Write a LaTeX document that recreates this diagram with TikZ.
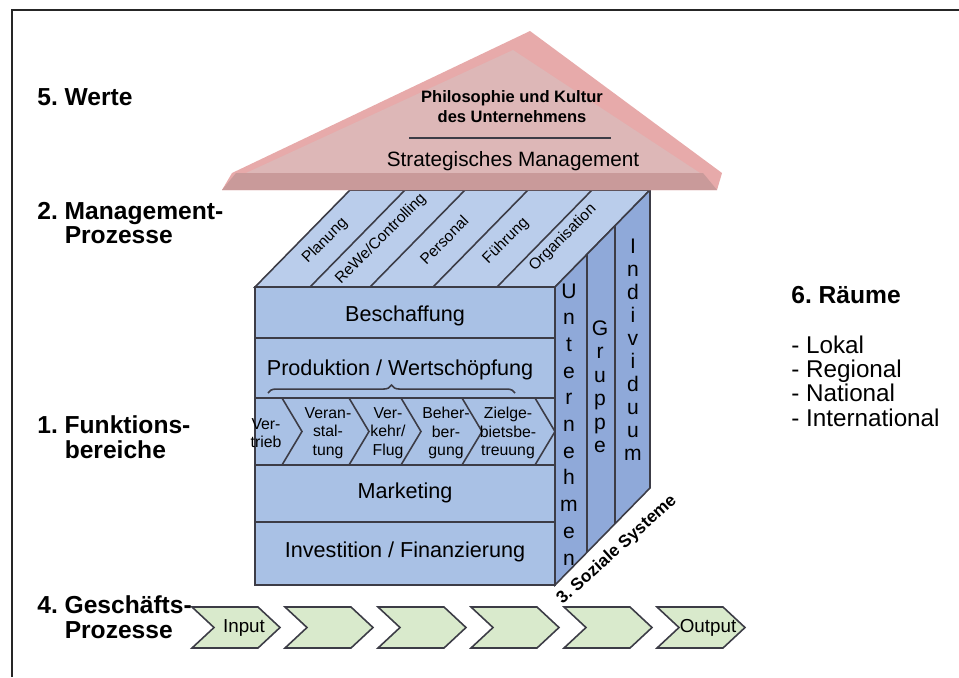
\documentclass[tikz,border=0pt]{standalone}
\usepackage{fontspec}
\setmainfont{Liberation Sans}
\usetikzlibrary{decorations.pathreplacing}
\frenchspacing

\definecolor{frontblue}{HTML}{A9C1E5}
\definecolor{topblue}{HTML}{BACDEB}
\definecolor{sideblue}{HTML}{8FA9D9}
\definecolor{roofout}{HTML}{E7AAAA}
\definecolor{roofin}{HTML}{DDB7B7}
\definecolor{roofband}{HTML}{C99A9A}
\definecolor{procgreen}{HTML}{D9EACC}
\definecolor{edgegray}{HTML}{3C3C46}

\tikzset{
  edge/.style={draw=edgegray, line width=0.9pt},
  fronttext/.style={font=\fontsize{12.3}{14}\selectfont},
  striptext/.style={font=\fontsize{8.8}{10}\selectfont, rotate=45},
  chevtext/.style={font=\fontsize{9}{10.5}\selectfont, align=center, inner sep=0pt},
  sidetext/.style={font=\fontsize{12}{14}\selectfont, anchor=base, inner sep=0pt},
  leftlabel/.style={font=\fontsize{14}{14.2}\selectfont\bfseries, align=left, anchor=west, inner sep=0pt},
  rooftext/.style={font=\fontsize{9.4}{11.4}\selectfont\bfseries, align=center},
  proctext/.style={font=\fontsize{10.7}{12}\selectfont},
}

\begin{document}
\begin{tikzpicture}[x=0.02cm, y=-0.02cm]
\useasboundingbox (0,0) rectangle (959,677);
% frame
\draw[line width=1.7pt, black!85] (12,677) -- (12,10) -- (959,10);

% cuboid: top, side, front
\filldraw[edge, fill=topblue] (255,287) -- (350,190) -- (650,190) -- (555,287) -- cycle;
\filldraw[edge, fill=sideblue] (555,287) -- (650,190) -- (650,488) -- (555,585) -- cycle;
\filldraw[edge, fill=frontblue] (255,287) rectangle (555,585);

\foreach \x in {310,370,433,497}
  \draw[edge] (\x,287) -- ++(95,-97);
\draw[edge] (587,254.3) -- (587,552.3);
\draw[edge] (615,225.7) -- (615,523.7);

\foreach \y in {338,398,465,522}
  \draw[edge] (255,\y) -- (555,\y);
\foreach \x in {282,349,401,462,535}
  \draw[edge] (\x,398) -- (\x+20,431.5) -- (\x,465);
\draw[edge, decorate, decoration={brace, amplitude=4.5pt}] (268,393) -- (515,393);

% front texts
\node[fronttext] (besch) at (405,316) {Beschaffung};
\node[fronttext] (prod) at (400,370) {Produktion / Wertschöpfung};
\node[fronttext] (mark) at (405,493) {Marketing};
\node[fronttext] (inv) at (405,552) {Investition / Finanzierung};

\node[chevtext] (vert) at (266,433) {Ver-\\trieb};
\node[chevtext] (veran) at (328,433) {Veran-\\stal-\\tung};
\node[chevtext] (verk) at (388,433) {Ver-\\kehr/\\Flug};
\node[chevtext] (beher) at (446,433) {Beher-\\ber-\\gung};
\node[chevtext] (ziel) at (508,433) {Zielge-\\bietsbe-\\treuung};

% top strips
\node[striptext] (plan) at (325,241) {Planung};
\node[striptext] (rewe) at (381,239) {ReWe/Controlling};
\node[striptext] (pers) at (444,240) {Personal};
\node[striptext] (fuehr) at (506,241) {Führung};
\node[striptext] (orga) at (563,238) {Organisation};

% side columns
\foreach \c [count=\i from 0] in {U,n,t,e,r,n,e,h,m,e,n}
  \node[sidetext] (unt\i) at (569,298+26.7*\i) {\c};
\foreach \c [count=\i from 0] in {G,r,u,p,p,e}
  \node[sidetext] (gru\i) at (600,335+23.5*\i) {\c};
\foreach \c [count=\i from 0] in {I,n,d,i,v,i,d,u,u,m}
  \node[sidetext] (ind\i) at (633,253+23*\i) {\c};

\node[font=\fontsize{9.8}{12}\selectfont\bfseries, rotate=42] (soz) at (617,550) {3. Soziale Systeme};

% roof
\fill[roofout] (222,190) -- (232,173) -- (530,31) -- (722,173) -- (717,190) -- cycle;
\fill[roofin] (246,173) -- (513,50) -- (700,173) -- cycle;
\fill[roofband] (222,190) -- (236,173) -- (703,173) -- (717,190) -- cycle;
\node[rooftext] (philo) at (512,107) {Philosophie und Kultur\\des Unternehmens};
\draw[edgegray, line width=0.8pt] (409,138) -- (611,138);
\node[font=\fontsize{11.8}{14}\selectfont] (strat) at (513,161) {Strategisches Management};

% process chevrons
\foreach \i in {0,...,5}
  \filldraw[edge, fill=procgreen] ({192+93*\i},607) -- ++(66,0) -- ++(22,20.5)
    -- ++(-22,20.5) -- ++(-66,0) -- ++(22,-20.5) -- cycle;
\node[proctext] (input) at (244,628) {Input};
\node[proctext] (output) at (708,628) {Output};

% labels
\node[leftlabel] (werte) at (37,97) {5. Werte};
\node[leftlabel] (mgmt) at (37,223) {2. Management-\\\hspace*{15.6pt}Prozesse};
\node[leftlabel] (funk) at (37,437) {1. Funktions-\\\hspace*{15.6pt}bereiche};
\node[leftlabel] (gesch) at (37,617) {4. Geschäfts-\\\hspace*{15.6pt}Prozesse};

\node[leftlabel] (raeume) at (791,295) {6. Räume};
\node[font=\fontsize{13.8}{13.9}\selectfont, align=left, anchor=west, inner sep=0pt] (liste) at (791,381)
  {- Lokal\\- Regional\\- National\\- International};
\end{tikzpicture}
\end{document}
